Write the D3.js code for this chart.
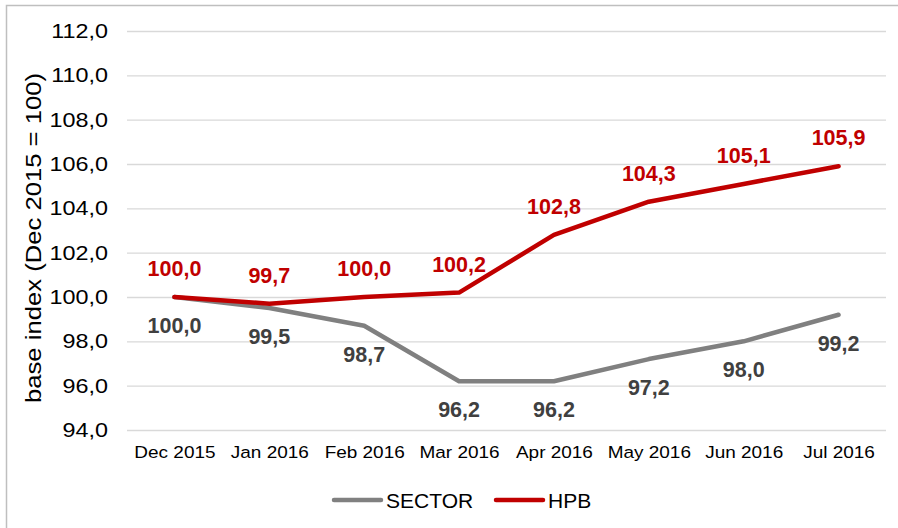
<!DOCTYPE html>
<html>
<head>
<meta charset="utf-8">
<script src="https://cdn.jsdelivr.net/npm/d3@7"></script>
<style>
  body { margin: 0; background: #fff; }
  svg { display: block; font-family: "Liberation Sans", Arial, sans-serif; }
</style>
</head>
<body>
<div id="chart"></div>
<script>
const months = ['Dec 2015', 'Jan 2016', 'Feb 2016', 'Mar 2016', 'Apr 2016', 'May 2016', 'Jun 2016', 'Jul 2016'];
const sectorValues = [100.0, 99.5, 98.7, 96.2, 96.2, 97.2, 98.0, 99.2];
const hpbValues = [100.0, 99.7, 100.0, 100.2, 102.8, 104.3, 105.1, 105.9];
const yTicks = [94, 96, 98, 100, 102, 104, 106, 108, 110, 112];

const width = 898, height = 528;
const margin = {left: 127, right: 12, top: 31, bottom: 98};
const colors = {sector: '#808080', sectorLabel: '#404040', hpb: '#c00000', grid: '#d9d9d9'};
const fmt = v => v.toFixed(1).replace('.', ',');

const svg = d3.select('#chart').append('svg')
    .attr('width', width)
    .attr('height', height);

// outer frame (top + left edges visible)
svg.append('path')
    .attr('d', `M6.5,${height} V5.5 H${width}`)
    .attr('fill', 'none')
    .attr('stroke', '#bfbfbf')
    .attr('stroke-width', 1.5);

const x = d3.scalePoint()
    .domain(months)
    .range([margin.left, width - margin.right])
    .padding(0.5);

const y = d3.scaleLinear()
    .domain([94, 112])
    .range([height - margin.bottom, margin.top]);

// gridlines + y labels (stretched a bit wider, like the original)
const stretch = 1.14;
const yAxis = d3.axisLeft(y)
    .tickValues(yTicks)
    .tickSize(-(width - margin.left - margin.right))
    .tickPadding(19)
    .tickFormat(fmt);

svg.append('g')
    .attr('transform', `translate(${margin.left},0)`)
    .call(yAxis)
    .call(g => g.select('.domain').remove())
    .call(g => g.selectAll('line').attr('stroke', colors.grid).attr('stroke-width', 1.3))
    .call(g => g.selectAll('text')
        .attr('fill', '#000')
        .style('font-size', '20.5px')
        .attr('x', -19 / stretch)
        .attr('transform', `scale(${stretch},1)`));

// x labels
const xAxis = d3.axisBottom(x).tickSize(0).tickPadding(16);
svg.append('g')
    .attr('transform', `translate(0,${height - margin.bottom})`)
    .call(xAxis)
    .call(g => g.select('.domain').remove())
    .call(g => g.selectAll('text')
        .attr('fill', '#000')
        .style('font-size', '16.5px')
        .attr('transform', 'scale(1.15,1)'));

// y title
svg.append('text')
    .attr('transform', `translate(41,238) rotate(-90)`)
    .attr('text-anchor', 'middle')
    .style('font-size', '22px')
    .attr('fill', '#000')
    .attr('textLength', 330)
    .attr('lengthAdjust', 'spacingAndGlyphs')
    .text('base index (Dec 2015 = 100)');

const line = d3.line()
    .x((d, i) => x(months[i]))
    .y(d => y(d));

svg.append('path')
    .datum(sectorValues)
    .attr('d', line)
    .attr('fill', 'none')
    .attr('stroke', colors.sector)
    .attr('stroke-width', 4.5)
    .attr('stroke-linejoin', 'round')
    .attr('stroke-linecap', 'round');

svg.append('path')
    .datum(hpbValues)
    .attr('d', line)
    .attr('fill', 'none')
    .attr('stroke', colors.hpb)
    .attr('stroke-width', 4.5)
    .attr('stroke-linejoin', 'round')
    .attr('stroke-linecap', 'round');

// data labels
svg.append('g').selectAll('text')
    .data(sectorValues)
    .join('text')
    .attr('x', (d, i) => x(months[i]))
    .attr('y', d => y(d) + 36)
    .attr('text-anchor', 'middle')
    .attr('fill', colors.sectorLabel)
    .style('font-size', '21.5px')
    .style('font-weight', 'bold')
    .text(fmt);

svg.append('g').selectAll('text')
    .data(hpbValues)
    .join('text')
    .attr('x', (d, i) => x(months[i]))
    .attr('y', d => y(d) - 21)
    .attr('text-anchor', 'middle')
    .attr('fill', colors.hpb)
    .style('font-size', '21.5px')
    .style('font-weight', 'bold')
    .text(fmt);

// legend
const legendItems = [
    {name: 'SECTOR', color: colors.sector, x: 334},
    {name: 'HPB', color: colors.hpb, x: 496}
];
const legend = svg.append('g').selectAll('g')
    .data(legendItems)
    .join('g')
    .attr('transform', d => `translate(${d.x},500)`);

legend.append('line')
    .attr('x1', 0).attr('x2', 47)
    .attr('stroke', d => d.color)
    .attr('stroke-width', 4.5)
    .attr('stroke-linecap', 'round');

legend.append('text')
    .attr('x', 52)
    .attr('dy', '0.36em')
    .attr('fill', '#000')
    .style('font-size', '21px')
    .text(d => d.name);
</script>
</body>
</html>
